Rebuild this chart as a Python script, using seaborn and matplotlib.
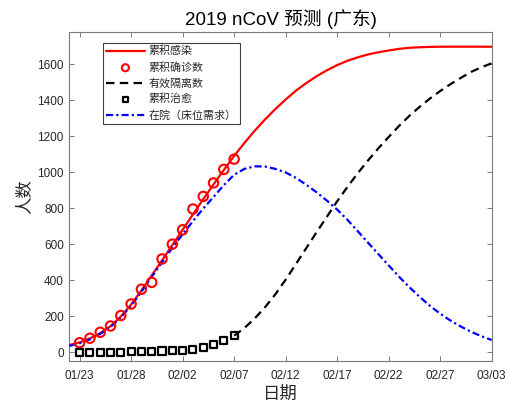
import numpy as np
import pandas as pd
import matplotlib
matplotlib.use("Agg")
import matplotlib.pyplot as plt
import seaborn as sns

# ---- data -------------------------------------------------------------
year = 2020
model_start = "2020-01-22"      # first day of the model curves
obs_start = "2020-01-23"        # first reported day
split_day = "2020-02-07"        # quarantine curve starts here

# model: cumulative infections (daily, 01/22 .. 03/03)
infected = [40, 55, 77, 106, 145, 198, 265, 343, 427, 510, 595, 680, 765, 850,
            932, 1012, 1090, 1162, 1230, 1292, 1350, 1403, 1452, 1494, 1532,
            1565, 1594, 1618, 1637, 1653, 1665, 1675, 1684, 1690, 1693, 1695,
            1696, 1696, 1696, 1696, 1696, 1696]

# model: patients in hospital (bed demand)
hospital = [35, 50, 72, 102, 141, 193, 259, 336, 418, 500, 580, 655, 728, 798,
            862, 928, 985, 1018, 1032, 1031, 1018, 998, 968, 930, 888, 842,
            792, 735, 672, 608, 545, 482, 420, 362, 308, 258, 214, 176, 143,
            114, 89, 68]

# model: effectively quarantined (02/07 .. 03/03)
quarantined = [92, 135, 188, 250, 322, 403, 490, 578, 666, 752, 838, 918, 994,
               1065, 1132, 1195, 1256, 1312, 1362, 1408, 1450, 1488, 1523,
               1556, 1582, 1604]

# reported cumulative confirmed and cured (01/23 .. 02/07)
confirmed = [53, 78, 111, 146, 204, 268, 350, 388, 518, 600, 680, 795, 865,
             940, 1015, 1072]
cured = [0, 0, 0, 0, 0, 2, 4, 5, 7, 9, 10, 13, 28, 42, 67, 92]

tick_labels = ["01/23", "01/28", "02/02", "02/07", "02/12", "02/17",
               "02/22", "02/27", "03/03"]
y_ticks = [0, 200, 400, 600, 800, 1000, 1200, 1400, 1600]

legend_labels = ["累积感染", "累积确诊数", "有效隔离数", "累积治愈", "在院（床位需求）"]

# ---- frames -----------------------------------------------------------
model = pd.DataFrame({
    "date": pd.date_range(model_start, periods=len(infected), freq="D"),
    "infected": infected,
    "hospital": hospital,
})
quar = pd.DataFrame({
    "date": pd.date_range(split_day, periods=len(quarantined), freq="D"),
    "quarantined": quarantined,
})
obs = pd.DataFrame({
    "date": pd.date_range(obs_start, periods=len(confirmed), freq="D"),
    "confirmed": confirmed,
    "cured": cured,
})
tick_dates = pd.to_datetime([f"{year}/{t}" for t in tick_labels], format="%Y/%m/%d")

# ---- style ------------------------------------------------------------
sns.set_style("white")
plt.rcParams["font.family"] = ["Liberation Sans", "Noto Sans CJK SC"]
plt.rcParams["axes.unicode_minus"] = False

fig = plt.figure(figsize=(5.10, 4.12), dpi=100)
ax = fig.add_axes([0.1359, 0.1231, 0.9641 - 0.1359, 0.9216 - 0.1231])

sns.lineplot(data=model, x="date", y="infected", ax=ax, color="#ff0000",
             lw=1.6, label=legend_labels[0], zorder=3)
sns.scatterplot(data=obs, x="date", y="confirmed", ax=ax, marker="o", s=46,
                label=legend_labels[1], zorder=4)
circ = ax.collections[-1]
circ.set_facecolor("none")
circ.set_edgecolor("#ff0000")
circ.set_linewidth(1.5)

sns.lineplot(data=quar, x="date", y="quarantined", ax=ax, color="black",
             lw=1.6, linestyle=(0, (3.8, 2.4)), label=legend_labels[2], zorder=3)
sns.scatterplot(data=obs, x="date", y="cured", ax=ax, marker="s", s=26,
                label=legend_labels[3], zorder=4)
sq = ax.collections[-1]
sq.set_facecolor("none")
sq.set_edgecolor("black")
sq.set_linewidth(1.6)

sns.lineplot(data=model, x="date", y="hospital", ax=ax, color="#0000ff",
             lw=1.6, linestyle=(0, (3.2, 1.4, 1.0, 1.4)),
             label=legend_labels[4], zorder=3)

# ---- axes -------------------------------------------------------------
ax.set_xlim(pd.Timestamp(model_start), tick_dates[-1])
ax.set_ylim(-50, 1776)
ax.set_xticks(tick_dates)
ax.set_xticklabels(tick_labels)
ax.set_yticks(y_ticks)
ax.set_yticklabels([str(v) for v in y_ticks])

axis_grey = "#262626"
for side in ["left", "right", "top", "bottom"]:
    ax.spines[side].set_visible(True)
    ax.spines[side].set_color("#7a7a7a")
    ax.spines[side].set_linewidth(0.8)
ax.tick_params(axis="both", direction="in", length=3.5, width=0.7,
               color="#7a7a7a", labelsize=8.5, labelcolor=axis_grey,
               top=True, right=True, bottom=True, left=True)
ax.tick_params(axis="x", pad=6)
ax.tick_params(axis="y", pad=4)

ax.set_xlabel("日期", fontsize=12.5, color=axis_grey,
              family=["Noto Sans CJK SC"], labelpad=2)
ax.set_ylabel("人数", fontsize=12.5, color=axis_grey,
              family=["Noto Sans CJK SC"], labelpad=2)
ax.set_title("2019 nCoV 预测 (广东)", fontsize=13.5, color="black",
             family=["Liberation Sans", "Noto Sans CJK SC"], pad=5)

leg = ax.legend(loc="upper left", bbox_to_anchor=(0.08, 0.968),
                frameon=True, fancybox=False, shadow=False, framealpha=1,
                edgecolor="#404040", handlelength=3.5, markerscale=0.75,
                handletextpad=0.4, labelspacing=0.5, borderpad=0.28,
                borderaxespad=0.0, prop={"family": ["Noto Sans CJK SC"], "size": 7.9})
leg.get_frame().set_linewidth(0.8)
for txt in leg.get_texts():
    txt.set_color(axis_grey)

fig.savefig("out.png", dpi=100)
